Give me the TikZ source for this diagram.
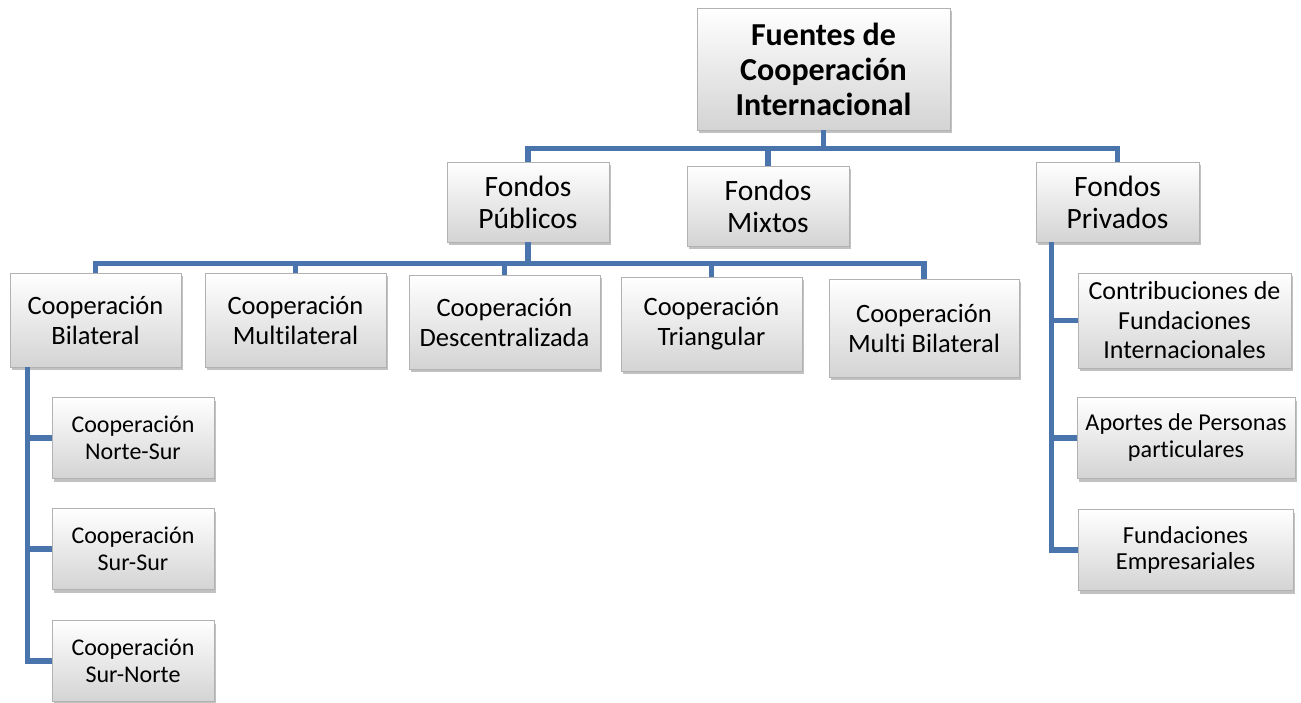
\documentclass[tikz,border=0pt]{standalone}
\usepackage{fontspec}
\setmainfont{Carlito}[Ligatures=NoCommon]
\usetikzlibrary{positioning,calc,shadows}
\definecolor{linkblue}{HTML}{4A74AC}

\begin{document}
\begin{tikzpicture}[x=1pt,y=-1pt]
\tikzset{box/.style={draw=black!30, line width=0.6pt, top color=white, bottom color=black!17,
  align=center, inner sep=0pt, minimum width=#1,
  drop shadow={shadow xshift=2pt, shadow yshift=-3pt, opacity=0.35, fill=black!70}}}
\tikzset{rootbox/.style={box=253pt, minimum height=122pt, font=\bfseries\fontsize{32}{35}\selectfont}}
\tikzset{fondo/.style={box=162pt, minimum height=80pt, font=\fontsize{29.5}{32}\selectfont}}
\tikzset{coop/.style={box=#1, minimum height=94pt, font=\fontsize{26.5}{30}\selectfont}}
\tikzset{sub/.style={box=#1, minimum height=81pt, font=\fontsize{24}{26.5}\selectfont}}
\tikzset{conn/.style={draw=linkblue, line width=5.5pt}}
\useasboundingbox (0,0) rectangle (1301,702);
\node[rootbox] (root) at (823.5,69) {Fuentes de\\Cooperación\\Internacional};
\node[fondo] (pub) at (528,202) {Fondos\\Públicos};
\node[fondo] (mix) at (768,206) {Fondos\\Mixtos};
\node[fondo, minimum width=163pt] (pri) at (1117.5,202) {Fondos\\Privados};
\node[coop=171pt] (bil) at (95.5,320) {Cooperación\\Bilateral};
\node[coop=181pt] (mul) at (295.5,320) {Cooperación\\Multilateral};
\node[coop=191pt] (des) at (504.5,322) {Cooperación\\Descentralizada};
\node[coop=181pt] (tri) at (711.5,324) {Cooperación\\Triangular};
\node[coop=190pt, minimum height=98pt] (mbi) at (924,328) {Cooperación\\Multi Bilateral};
\node[sub=162pt] (ns) at (133,438) {Cooperación\\Norte-Sur};
\node[sub=162pt] (ss) at (133,549) {Cooperación\\Sur-Sur};
\node[sub=162pt] (sn) at (133,661) {Cooperación\\Sur-Norte};
\node[sub=213pt, minimum height=95pt, font=\fontsize{26}{29.5}\selectfont] (con) at (1184.5,320.5) {Contribuciones de\\Fundaciones\\Internacionales};
\node[sub=218pt, font=\fontsize{24.2}{27}\selectfont] (apo) at (1186,438) {Aportes de Personas\\particulares};
\node[sub=215pt, font=\fontsize{24.5}{26.5}\selectfont] (fun) at (1185.5,550) {Fundaciones\\Empresariales};
\foreach \c in {pub,mix,pri}
  \draw[conn] (root.south) -- +(0,18) -| (\c.north);
\foreach \c in {bil,mul,des,tri,mbi}
  \draw[conn] (pub.south) -- +(0,21) -| (\c.north);
\foreach \c in {ns,ss,sn}
  \draw[conn] ([xshift=18pt]bil.south west) |- (\c.west);
\foreach \c in {con,apo,fun}
  \draw[conn] ([xshift=16pt]pri.south west) |- (\c.west);
\end{tikzpicture}
\end{document}
